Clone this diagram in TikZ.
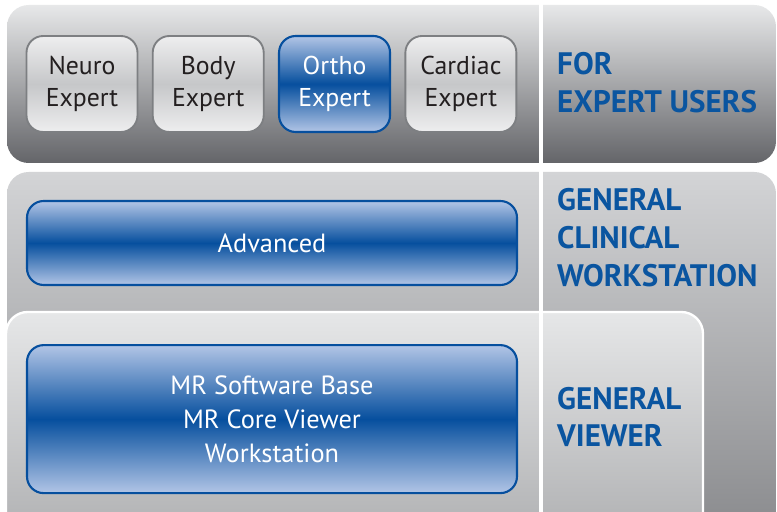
\documentclass[tikz,border=0pt]{standalone}
\usepackage{fontspec}
\setmainfont{PT Sans}
\usetikzlibrary{positioning}

\definecolor{paneltop}{RGB}{231,232,233}
\definecolor{panelbot}{RGB}{100,101,105}
\definecolor{midtop}{RGB}{211,212,214}
\definecolor{midbot}{RGB}{132,133,136}
\definecolor{basetop}{RGB}{230,231,232}
\definecolor{basebot}{RGB}{170,171,173}
\definecolor{greylight}{RGB}{238,238,239}
\definecolor{greymid}{RGB}{198,199,201}
\definecolor{greyedge}{RGB}{125,127,130}
\definecolor{bluelight}{RGB}{178,197,230}
\definecolor{bluedark}{RGB}{6,79,158}
\definecolor{labelblue}{RGB}{10,85,160}
\definecolor{darktext}{RGB}{35,31,32}

\begin{document}
\begin{tikzpicture}[x=0.03cm, y=-0.03cm]
\tikzstyle{tier}=[rounded corners=6.5mm]
\tikzstyle{expert}=[rectangle, rounded corners=5mm, minimum width=3.33cm, minimum height=2.88cm, line width=1.6pt, draw=greyedge, top color=greylight, bottom color=greylight, middle color=greymid, text=darktext, align=center, font=\fontsize{22}{27.5}\selectfont, node distance=0.4cm]
\tikzstyle{module}=[rectangle, rounded corners=5mm, line width=1.8pt, draw=bluedark, top color=bluelight, bottom color=bluelight, middle color=bluedark, text=white, align=center, font=\fontsize{22.5}{29}\selectfont, minimum width=14.7cm]
\tikzstyle{tag}=[anchor=west, inner sep=0pt, align=left, text=labelblue, font=\bfseries\fontsize{26.5}{32.4}\selectfont]
    \useasboundingbox (0,0) rectangle (777,512);
    \fill[white] (0,0) rectangle (777,512);
    \clip (0,0) rectangle (777,512);
    % the three tiers
    \shade[tier, top color=paneltop, bottom color=panelbot] (7,5) rectangle (776,163);
    \shade[tier, top color=midtop, bottom color=midbot] (7,172) rectangle (776,560);
    \shade[tier, top color=basetop, bottom color=basebot, draw=white, line width=2pt] (6,312) rectangle (703,560);
    \draw[white, line width=2.6pt] (541,0) -- (541,512);
    % expert packages
    \node[expert] (neuro) at (82,84) {Neuro\\Expert};
    \node[expert] (body) [right=of neuro] {Body\\Expert};
    \node[module, minimum width=3.33cm, minimum height=2.88cm, font=\fontsize{22}{27.5}\selectfont] (ortho) [right=0.4cm of body] {Ortho\\Expert};
    \node[expert] (cardiac) [right=0.4cm of ortho] {Cardiac\\Expert};
    % clinical and viewer
    \node[module, minimum height=2.52cm] (advanced) at (272,243) {Advanced};
    \node[module, minimum height=4.44cm] (base) [below=1.74cm of advanced] {MR Software Base\\MR Core Viewer\\Workstation};
    % tier labels
    \node[tag] (expertlbl) at (557,83) {FOR\\EXPERT USERS};
    \node[tag] (clinicallbl) at (557,238) {GENERAL\\CLINICAL\\WORKSTATION};
    \node[tag] (viewerlbl) at (557,417) {GENERAL\\VIEWER};
\end{tikzpicture}
\end{document}
